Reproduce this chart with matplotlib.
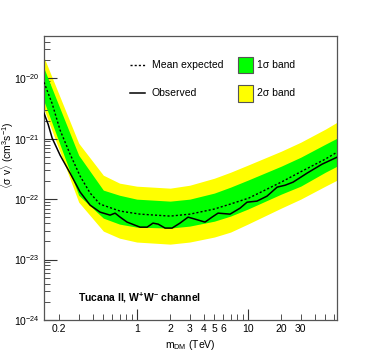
import matplotlib
matplotlib.use("Agg")
import matplotlib.pyplot as plt
from matplotlib.ticker import NullFormatter, FixedLocator
from matplotlib.patches import Rectangle

plt.rcParams['font.family'] = ['Liberation Sans', 'DejaVu Sans']
plt.rcParams['mathtext.fontset'] = 'custom'
plt.rcParams['mathtext.rm'] = 'Liberation Sans'
plt.rcParams['mathtext.it'] = 'Liberation Sans:italic'
plt.rcParams['mathtext.bf'] = 'Liberation Sans:bold'

# ---- data ----
band_mass = [0.146, 0.3, 0.5, 0.7, 1, 2, 3, 5, 7, 10, 20, 30, 50, 63.7]
two_sigma_hi = [2.22e-20, 8.43e-22, 2.49e-22, 1.84e-22, 1.64e-22, 1.52e-22, 1.70e-22,
                2.22e-22, 2.79e-22, 3.65e-22, 6.21e-22, 8.75e-22, 1.44e-21, 1.87e-21]
one_sigma_hi = [1.46e-20, 5.33e-22, 1.41e-22, 1.16e-22, 1.00e-22, 9.27e-23, 1.00e-22,
                1.26e-22, 1.58e-22, 2.06e-22, 3.51e-22, 4.94e-22, 8.11e-22, 1.02e-21]
one_sigma_lo = [4.17e-21, 1.16e-22, 4.85e-23, 3.86e-23, 3.44e-23, 3.32e-23, 3.58e-23,
                4.32e-23, 5.24e-23, 6.84e-23, 1.21e-22, 1.64e-22, 2.79e-22, 3.51e-22]
two_sigma_lo = [3.08e-21, 8.91e-23, 2.96e-23, 2.26e-23, 1.95e-23, 1.80e-23, 1.95e-23,
                2.36e-23, 2.85e-23, 3.86e-23, 7.10e-23, 1.00e-22, 1.64e-22, 2.06e-22]

exp_mass = [0.146, 0.173, 0.204, 0.251, 0.309, 0.380, 0.467, 0.708, 1.07, 2.0, 3.02,
            4.97, 6.93, 10.2, 20.0, 29.5, 49.8, 63.7]
exp_sv = [8.6e-21, 3.8e-21, 1.38e-21, 5.54e-22, 2.40e-22, 1.26e-22, 8.26e-23, 6.34e-23,
          5.65e-23, 5.24e-23, 5.65e-23, 6.84e-23, 8.26e-23, 1.04e-22, 1.91e-22, 2.79e-22,
          4.58e-22, 5.98e-22]

obs_mass = [0.146, 0.159, 0.173, 0.204, 0.251, 0.309, 0.380, 0.467, 0.575, 0.638, 0.708,
            0.818, 1.07, 1.24, 1.40, 1.56, 1.80, 2.08, 2.45, 2.90, 3.35, 4.12, 4.77, 5.40,
            6.93, 8.53, 9.86, 12.1, 14.9, 18.4, 21.7, 25.6, 34.2, 46.7, 63.7]
obs_sv = [2.64e-21, 1.74e-21, 1.02e-21, 5.33e-22, 2.69e-22, 1.31e-22, 7.96e-23, 6.10e-23,
          5.44e-23, 5.87e-23, 5.04e-23, 4.17e-23, 3.44e-23, 3.44e-23, 4.01e-23, 3.86e-23,
          3.32e-23, 3.32e-23, 4.01e-23, 5.04e-23, 4.67e-23, 4.17e-23, 5.04e-23, 5.87e-23,
          5.65e-23, 7.10e-23, 8.91e-23, 9.27e-23, 1.12e-22, 1.58e-22, 1.70e-22, 1.91e-22,
          2.69e-22, 3.79e-22, 4.94e-22]

xmajor = [1, 10]
xmajor_labels = ["1", "10"]
xminor = [0.2, 0.3, 0.4, 0.5, 0.6, 0.7, 0.8, 0.9, 2, 3, 4, 5, 6, 7, 8, 9, 20, 30, 40, 50, 60]
xminor_labels = ["0.2", "", "", "", "", "", "", "", "2", "3", "4", "5", "6", "", "", "",
                 "20", "30", "", "", ""]
ymajor_exp = [-24, -23, -22, -21, -20]

# ---- figure ----
W, H = 374, 356
fig = plt.figure(figsize=(W/100, H/100), dpi=100)
ax = fig.add_axes([44/W, 1-320/H, (337-44)/W, (320-36)/H])

ax.fill_between(band_mass, two_sigma_lo, two_sigma_hi, color='#ffff00', lw=0, zorder=1)
ax.fill_between(band_mass, one_sigma_lo, one_sigma_hi, color='#00ff00', lw=0, zorder=2)
ax.plot(exp_mass, exp_sv, color='black', ls=(0, (1.5, 1.5)), lw=1.0, zorder=3)
ax.plot(obs_mass, obs_sv, color='black', ls='-', lw=1.1, zorder=4)

ax.set_xscale('log')
ax.set_yscale('log')
ax.set_xlim(0.146, 63.7)
ax.set_ylim(1e-24, 10**-19.3)

ax.set_xticks(xmajor, labels=xmajor_labels)
ax.set_xticks(xminor, labels=xminor_labels, minor=True)
ymaj = [10.0**e for e in ymajor_exp]
ax.set_yticks(ymaj, labels=[r'$10^{%d}$' % e for e in ymajor_exp])
ymin = [k * 10.0**e for e in ymajor_exp for k in range(2, 10) if k * 10.0**e < 10**-19.3]
ax.yaxis.set_minor_locator(FixedLocator(ymin))
ax.yaxis.set_minor_formatter(NullFormatter())

ax.tick_params(which='both', direction='in', top=False, right=False, labelsize=7.5,
               color='#333333')
ax.tick_params(axis='y', which='major', length=9, pad=3)
ax.tick_params(axis='y', which='minor', length=4.5)
ax.tick_params(axis='x', which='major', length=8, pad=3)
ax.tick_params(axis='x', which='minor', length=4.5, pad=3)
for s in ax.spines.values():
    s.set_color('#555555')
    s.set_linewidth(0.9)

ax.set_xlabel(r'm$_{\rm DM}$ (TeV)', fontsize=7.5, labelpad=3)
fig.text(8/W, 1-155/H, r'$\langle$σ v$\rangle$ (cm$^{3}$s$^{-1}$)', rotation=90,
         fontsize=7.5, ha='center', va='center')

fig.text(78/W, 1-298/H, r'Tucana II, W$^{\mathbf{+}}$W$^{\mathbf{-}}$ channel', fontsize=7.5,
         fontweight='bold', va='center', ha='left')

# legend (pixel positions converted to axes fraction)
def px(x, y):
    return ((x-44)/293, (320-y)/284)

ax.plot([px(130, 0)[0], px(145, 0)[0]], [px(0, 65)[1]]*2, transform=ax.transAxes,
        color='black', ls=(0, (1.5, 1.5)), lw=1.0, clip_on=False)
ax.plot([px(130, 0)[0], px(145, 0)[0]], [px(0, 93)[1]]*2, transform=ax.transAxes,
        color='black', ls='-', lw=1.1, clip_on=False)
ax.text(*px(152, 65), 'Mean expected', transform=ax.transAxes, fontsize=7.5, va='center')
ax.text(*px(152, 93), 'Observed', transform=ax.transAxes, fontsize=7.5, va='center')
x0, y0 = px(238, 73)
x1, y1 = px(253, 57)
ax.add_patch(Rectangle((x0, y0), x1-x0, y1-y0, transform=ax.transAxes,
                       facecolor='#00ff00', edgecolor='#555555', lw=0.8))
x0, y0 = px(238, 102)
x1, y1 = px(253, 85)
ax.add_patch(Rectangle((x0, y0), x1-x0, y1-y0, transform=ax.transAxes,
                       facecolor='#ffff00', edgecolor='#555555', lw=0.8))
ax.text(*px(257, 65), '1σ band', transform=ax.transAxes, fontsize=7.5, va='center')
ax.text(*px(257, 93), '2σ band', transform=ax.transAxes, fontsize=7.5, va='center')

fig.savefig('out.png', dpi=100)
